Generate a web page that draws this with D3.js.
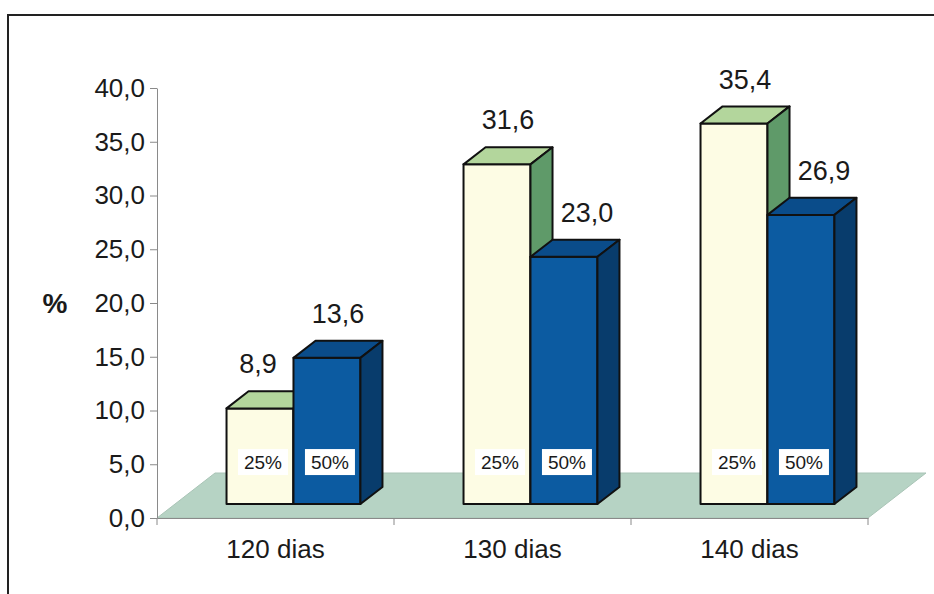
<!DOCTYPE html>
<html>
<head>
<meta charset="utf-8">
<script src="https://cdn.jsdelivr.net/npm/d3@7"></script>
<style>
  html, body { margin: 0; padding: 0; background: #ffffff; }
  svg { display: block; }
  text { font-family: Arial, "Liberation Sans", sans-serif; fill: #1a1a1a; }
</style>
</head>
<body>
<svg id="chart" width="934" height="594"></svg>
<script>
// Data
const categories = ["120 dias", "130 dias", "140 dias"];
const seriesNames = ["25%", "50%"];
const values25 = [8.9, 31.6, 35.4];
const values50 = [13.6, 23.0, 26.9];
const yTickValues = [0, 5, 10, 15, 20, 25, 30, 35, 40];
const yAxisLabel = "%";

const seriesValues = [values25, values50];

// Colours for each series: front, top and side faces
const faceColors = [
  { front: "#fdfce4", top: "#b3d69c", side: "#5f9a69" },
  { front: "#0c5ba1", top: "#0a4c8a", side: "#083c6c" }
];
const floorColor = "#b6d3c4";
const axisColor = "#8a8a8a";

const svg = d3.select("#chart");

// Pt-BR style numbers: comma as decimal separator
const ptBR = d3.formatLocale({ decimal: ",", thousands: ".", grouping: [3], currency: ["R$", ""] });
const fmt = ptBR.format(".1f");

// Plot area (front plane of the floor)
const plotLeft = 157, plotRight = 868, plotBottom = 518, plotTop = 88;

const x = d3.scaleBand().domain(categories).range([plotLeft, plotRight]);
const y = d3.scaleLinear().domain([0, 40]).range([plotBottom, plotTop]);

// Oblique depth: full floor depth vector, bars occupy the middle slice
const depth = { dx: 58, dy: -45 };
const barFront = 0.31, barBack = 0.69;
const fx = depth.dx * barFront, fy = depth.dy * barFront;
const bdx = depth.dx * (barBack - barFront), bdy = depth.dy * (barBack - barFront);

const groupWidth = x.bandwidth() * 0.565;
const xs = d3.scaleBand().domain(seriesNames).range([0, groupWidth]);

// Chart frame
svg.append("rect")
  .attr("x", 8).attr("y", 15)
  .attr("width", 1000).attr("height", 700)
  .attr("fill", "none").attr("stroke", "#222").attr("stroke-width", 2);

// Floor
const floorPts = [
  [x.range()[0], y(0)],
  [x.range()[1], y(0)],
  [x.range()[1] + depth.dx, y(0) + depth.dy],
  [x.range()[0] + depth.dx, y(0) + depth.dy]
];
svg.append("polygon")
  .attr("points", floorPts.map(p => p.join(",")).join(" "))
  .attr("fill", floorColor)
  .attr("stroke", "#a9c4b6").attr("stroke-width", 1);

// Y axis
const yAxis = svg.append("g")
  .attr("transform", `translate(${plotLeft},0)`)
  .call(d3.axisLeft(y).tickValues(yTickValues).tickFormat(fmt).tickSize(7).tickSizeOuter(0).tickPadding(5));
yAxis.select(".domain").attr("stroke", axisColor);
yAxis.selectAll(".tick line").attr("stroke", axisColor);
yAxis.selectAll(".tick text")
  .attr("font-size", 26).attr("font-family", "Arial, 'Liberation Sans', sans-serif").attr("fill", "#1a1a1a");

// X axis: labels centred under each category, ticks on band boundaries
const xAxis = svg.append("g")
  .attr("transform", `translate(0,${plotBottom})`)
  .call(d3.axisBottom(x).tickSize(0).tickSizeOuter(0).tickPadding(22));
xAxis.select(".domain").attr("stroke", axisColor);
xAxis.selectAll(".tick text")
  .attr("font-size", 26).attr("font-family", "Arial, 'Liberation Sans', sans-serif").attr("fill", "#1a1a1a");
const boundaries = categories.map(c => x(c)).concat([x.range()[1]]);
xAxis.selectAll("line.boundary")
  .data(boundaries)
  .join("line")
  .attr("class", "boundary")
  .attr("x1", d => d).attr("x2", d => d)
  .attr("y1", 0).attr("y2", 7)
  .attr("stroke", axisColor);

// Axis title
svg.append("text")
  .attr("x", 55).attr("y", 313)
  .attr("text-anchor", "middle")
  .attr("font-size", 28).attr("font-weight", "bold")
  .text(yAxisLabel);

// Bars
const bars = [];
categories.forEach((cat, ci) => {
  seriesNames.forEach((s, si) => {
    const v = seriesValues[si][ci];
    const x0 = x(cat) + x.bandwidth() / 2 - groupWidth / 2 + xs(s) + fx;
    const w = xs.bandwidth();
    const top = y(v) + fy;
    const bottom = y(0) + fy;
    bars.push({ cat, ci, s, si, v, x0, w, top, bottom });
  });
});

const barG = svg.append("g");
bars.forEach(b => {
  const c = faceColors[b.si];
  const g = barG.append("g");
  g.append("rect")
    .attr("x", b.x0).attr("y", b.top)
    .attr("width", b.w).attr("height", b.bottom - b.top)
    .attr("fill", c.front).attr("stroke", "#111").attr("stroke-width", 2)
    .attr("stroke-linejoin", "round");
  g.append("polygon")
    .attr("points", [
      [b.x0, b.top], [b.x0 + b.w, b.top],
      [b.x0 + b.w + bdx, b.top + bdy], [b.x0 + bdx, b.top + bdy]
    ].map(p => p.join(",")).join(" "))
    .attr("fill", c.top).attr("stroke", "#111").attr("stroke-width", 2)
    .attr("stroke-linejoin", "round");
  g.append("polygon")
    .attr("points", [
      [b.x0 + b.w, b.top], [b.x0 + b.w + bdx, b.top + bdy],
      [b.x0 + b.w + bdx, b.bottom + bdy], [b.x0 + b.w, b.bottom]
    ].map(p => p.join(",")).join(" "))
    .attr("fill", c.side).attr("stroke", "#111").attr("stroke-width", 2)
    .attr("stroke-linejoin", "round");
});

// Value labels above each bar, nudged away from a taller neighbour
bars.forEach(b => {
  const other = seriesValues[1 - b.si][b.ci];
  let shift = 0;
  if (other > b.v) shift = b.si === 0 ? -13 : 12;
  svg.append("text")
    .attr("x", b.x0 + b.w / 2 + bdx / 2 + shift)
    .attr("y", b.top - 35)
    .attr("text-anchor", "middle")
    .attr("font-size", 27)
    .text(fmt(b.v));
});

// Series name tags on the front faces
bars.forEach(b => {
  const cx = b.x0 + b.w / 2 + 3;
  const cy = b.bottom - 42;
  svg.append("rect")
    .attr("x", cx - 25).attr("y", cy - 13)
    .attr("width", 50).attr("height", 26)
    .attr("fill", "#ffffff");
  svg.append("text")
    .attr("x", cx).attr("y", cy)
    .attr("dy", "0.35em")
    .attr("text-anchor", "middle")
    .attr("font-size", 19)
    .text(b.s);
});
</script>
</body>
</html>
